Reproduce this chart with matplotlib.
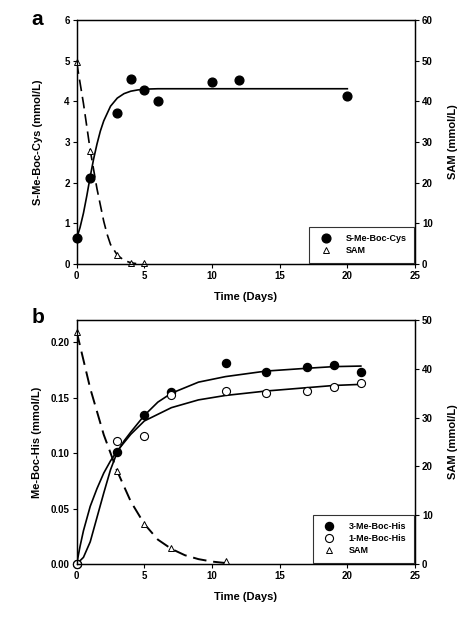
import numpy as np
import matplotlib
matplotlib.use("Agg")
import matplotlib.pyplot as plt

plt.rcParams["font.family"] = ["Liberation Sans", "DejaVu Sans"]
plt.rcParams["font.weight"] = "bold"

# ---- panel a data ----
cys_days = [0, 1, 3, 4, 5, 6, 10, 12, 20]
cys_conc = [0.63, 2.11, 3.71, 4.56, 4.29, 4.02, 4.48, 4.52, 4.12]
cys_fit_days = [0, 0.25, 0.5, 0.75, 1, 1.25, 1.5, 1.75, 2, 2.5, 3, 3.5, 4, 4.5, 5, 6, 20]
cys_fit_conc = [0.63, 0.9, 1.25, 1.68, 2.15, 2.58, 2.95, 3.27, 3.52, 3.88, 4.08, 4.19, 4.25, 4.28, 4.30, 4.31, 4.31]

sam_a_days = [0, 1, 3, 4, 5]
sam_a_conc = [49.6, 27.9, 2.3, 0.3, 0.2]
sam_a_fit_days = [0, 0.5, 1, 1.5, 2, 2.25, 2.5, 3, 3.5, 4, 4.4]
sam_a_fit_conc = [49.6, 39.5, 28.0, 18.5, 10.5, 7.3, 4.8, 2.2, 0.9, 0.3, 0.1]

# ---- panel b data ----
his_days = [0, 3, 5, 7, 11, 14, 17, 19, 21]
his3_conc = [0.0, 0.101, 0.134, 0.155, 0.181, 0.173, 0.178, 0.1795, 0.173]
his1_conc = [0.0, 0.111, 0.1156, 0.152, 0.156, 0.1546, 0.156, 0.160, 0.1633]

his3_fit_days = [0, 0.5, 1, 1.5, 2, 2.5, 3, 3.5, 4, 5, 6, 7, 9, 11, 14, 17, 19, 21]
his3_fit_conc = [0.0, 0.006, 0.02, 0.042, 0.064, 0.085, 0.101, 0.111, 0.119, 0.134, 0.146, 0.154, 0.164, 0.169, 0.174, 0.1765, 0.178, 0.1785]
his1_fit_days = [0, 0.25, 0.5, 1, 1.5, 2, 2.5, 3, 4, 5, 7, 9, 11, 14, 17, 19, 21]
his1_fit_conc = [0.0, 0.016, 0.030, 0.052, 0.068, 0.082, 0.093, 0.102, 0.117, 0.129, 0.141, 0.148, 0.152, 0.156, 0.159, 0.161, 0.162]

sam_b_days = [0, 3, 5, 7, 11]
sam_b_conc = [47.6, 19.0, 8.3, 3.3, 0.7]
sam_b_fit_days = [0, 1, 2, 3, 4, 5, 6, 7, 8, 9, 10, 11]
sam_b_fit_conc = [47.6, 36.0, 26.5, 19.0, 12.8, 8.2, 5.0, 3.1, 1.8, 1.0, 0.5, 0.2]

TICK_FS = 7
LABEL_FS = 8
LEG_FS = 6.5


def style_axes(ax, ax2):
    ax.set_xlim(0, 25)
    ax.set_xticks([0, 5, 10, 15, 20, 25])
    for a in (ax, ax2):
        a.tick_params(direction="out", length=3, width=0.8, labelsize=TICK_FS, pad=2)
        for s in a.spines.values():
            s.set_linewidth(0.9)
    ax.set_xlabel("Time (Days)", fontsize=LABEL_FS, fontweight="bold", labelpad=8)


def panel(fig, rect, letter, dy):
    ax = fig.add_axes(rect)
    ax2 = ax.twinx()
    fig.text(rect[0] - 0.096, rect[1] + rect[3] + dy, letter,
             fontsize=15, fontweight="bold", va="bottom")
    return ax, ax2


def add_legend(a, handles):
    leg = a.legend(handles=handles, loc="lower right", fontsize=LEG_FS, frameon=True,
                   fancybox=False, edgecolor="black", borderaxespad=0.15,
                   handletextpad=1.2, borderpad=0.8, labelspacing=0.35)
    leg.get_frame().set_linewidth(0.8)
    for t in leg.get_texts():
        t.set_fontweight("bold")


fig = plt.figure(figsize=(4.69, 6.2), dpi=100)

# panel a
ax, ax2 = panel(fig, [0.1635, 0.5742, 0.7213, 0.3935], "a", -0.015)
ax.plot(cys_fit_days, cys_fit_conc, color="black", lw=1.2)
h1, = ax.plot(cys_days, cys_conc, "o", color="black", ms=6.3, clip_on=False,
              label="S-Me-Boc-Cys")
ax2.plot(sam_a_fit_days, sam_a_fit_conc, color="black", lw=1.2, dashes=(7, 3.5))
h2, = ax2.plot(sam_a_days, sam_a_conc, "^", mfc="white", mec="black", mew=0.7,
               ms=3.8, clip_on=False, label="SAM")
ax.set_ylim(0, 6)
ax.set_yticks(range(0, 7))
ax2.set_ylim(0, 60)
ax2.set_yticks(range(0, 61, 10))
ax.set_ylabel("S-Me-Boc-Cys (mmol/L)", fontsize=LABEL_FS, fontweight="bold", labelpad=15)
ax2.set_ylabel("SAM (mmol/L)", fontsize=LABEL_FS, fontweight="bold", labelpad=11)
style_axes(ax, ax2)
add_legend(ax2, [h1, h2])

# panel b
bx, bx2 = panel(fig, [0.1635, 0.0903, 0.7213, 0.3935], "b", -0.012)
bx.plot(his3_fit_days, his3_fit_conc, color="black", lw=1.2)
bx.plot(his1_fit_days, his1_fit_conc, color="black", lw=1.2)
g1, = bx.plot(his_days, his3_conc, "o", color="black", ms=5.8, clip_on=False,
              label="3-Me-Boc-His")
g2, = bx.plot(his_days, his1_conc, "o", mfc="white", mec="black", mew=0.8, ms=5.8,
              clip_on=False, label="1-Me-Boc-His")
bx2.plot(sam_b_fit_days, sam_b_fit_conc, color="black", lw=1.4, dashes=(7, 3.5))
g3, = bx2.plot(sam_b_days, sam_b_conc, "^", mfc="white", mec="black", mew=0.7,
               ms=3.8, clip_on=False, label="SAM")
bx.set_ylim(0, 0.22)
bx.set_yticks([0, 0.05, 0.10, 0.15, 0.20])
bx.set_yticklabels(["0.00", "0.05", "0.10", "0.15", "0.20"])
bx2.set_ylim(0, 50)
bx2.set_yticks(range(0, 51, 10))
bx.set_ylabel("Me-Boc-His (mmol/L)", fontsize=LABEL_FS, fontweight="bold", labelpad=6)
bx2.set_ylabel("SAM (mmol/L)", fontsize=LABEL_FS, fontweight="bold", labelpad=11)
style_axes(bx, bx2)
add_legend(bx2, [g1, g2, g3])

fig.savefig("out.png", dpi=100)
